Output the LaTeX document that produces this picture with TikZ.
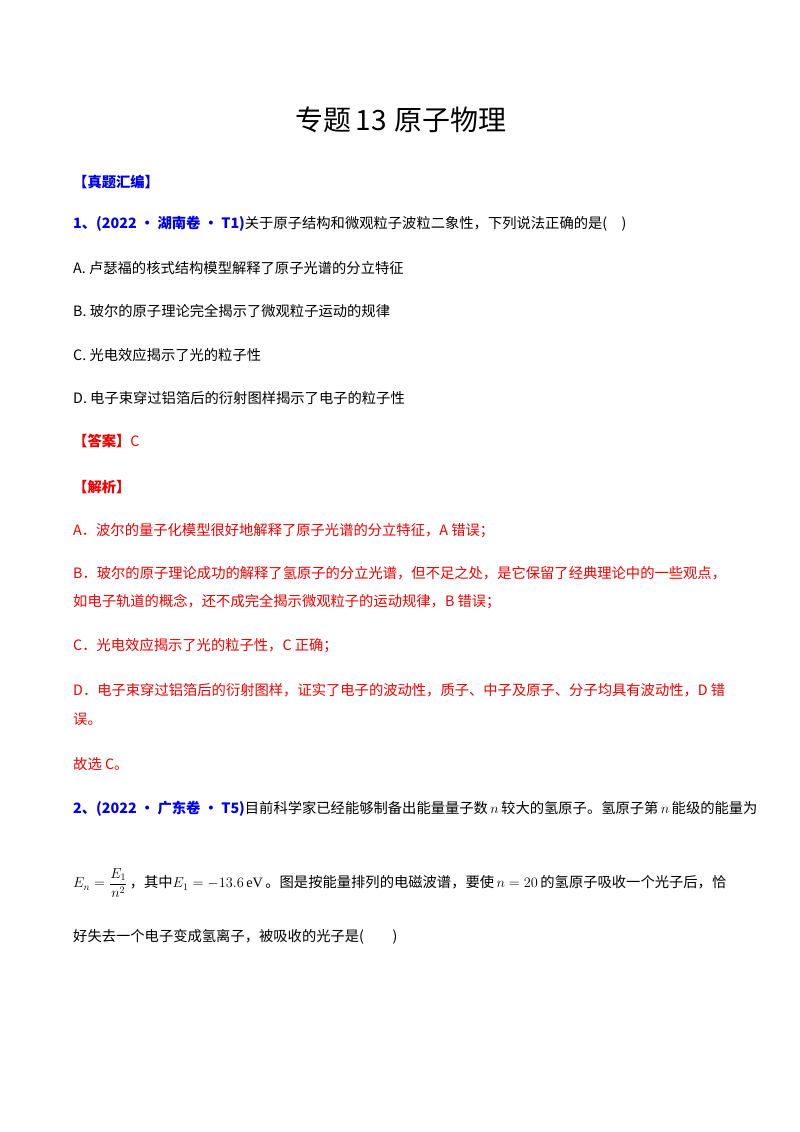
\documentclass[tikz,border=0pt]{standalone}
\usepackage{fontspec}
\usepackage{amsmath}
\setmainfont{Liberation Serif}
\newfontfamily\cjk{Noto Sans CJK SC}
\usetikzlibrary{positioning}
\definecolor{qblue}{RGB}{0,0,230}
\definecolor{ared}{RGB}{240,0,0}
\tikzset{
  line/.style={anchor=west, inner sep=0pt, font=\cjk\fontsize{14.3}{16}\selectfont},
  blueline/.style={line, text=qblue},
  redline/.style={line, text=ared}
}
\begin{document}
\begin{tikzpicture}[x=1pt, y=-1pt]
  \useasboundingbox[fill=white] (0,0) rectangle (800,1132);
  % title
  \node[inner sep=0pt, font=\cjk\fontsize{28}{30}\selectfont] (title) at (401,120) {专题\,13\;原子物理};
  \node[blueline] (part) at (73,182) {\textbf{【真题汇编】}};
  % question 1
  \node[line] (q1) at (73,224) {\textcolor{qblue}{\textbf{1、(2022 • 湖南卷 • T1)}}关于原子结构和微观粒子波粒二象性，下列说法正确的是(\quad)};
  \node[line] (optA) at (73,268) {A. 卢瑟福的核式结构模型解释了原子光谱的分立特征};
  \node[line] (optB) at (73,311) {B. 玻尔的原子理论完全揭示了微观粒子运动的规律};
  \node[line] (optC) at (73,355) {C. 光电效应揭示了光的粒子性};
  \node[line] (optD) at (73,398) {D. 电子束穿过铝箔后的衍射图样揭示了电子的粒子性};
  \node[line] (ans) at (73,441) {\textcolor{ared}{\textbf{【答案】}}\textcolor{ared}{C}};
  \node[redline] (exp) at (73,487) {\textbf{【解析】}};
  % explanation
  \node[redline] (eA) at (73,531) {A．波尔的量子化模型很好地解释了原子光谱的分立特征，A 错误；};
  \node[redline] (eB) at (73,573) {B．玻尔的原子理论成功的解释了氢原子的分立光谱，但不足之处，是它保留了经典理论中的一些观点，};
  \node[redline] (eB2) at (73,602) {如电子轨道的概念，还不成完全揭示微观粒子的运动规律，B 错误；};
  \node[redline] (eC) at (73,646) {C．光电效应揭示了光的粒子性，C 正确；};
  \node[redline] (eD) at (73,690) {D．电子束穿过铝箔后的衍射图样，证实了电子的波动性，质子、中子及原子、分子均具有波动性，D 错};
  \node[redline] (eD2) at (73,719) {误。};
  \node[redline] (pick) at (73,764) {故选 C。};
  % question 2
  \node[line] (q2) at (73,809) {\textcolor{qblue}{\textbf{2、(2022 • 广东卷 • T5)}}目前科学家已经能够制备出能量量子数\,$n$\,较大的氢原子。氢原子第\,$n$\,能级的能量为};
  \node[line] (q2b) at (73,883) {$E_n=\dfrac{E_1}{n^2}$\,，其中$E_1=-13.6\,\mathrm{eV}$\,。图是按能量排列的电磁波谱，要使\,$n=20$\,的氢原子吸收一个光子后，恰};
  \node[line] (q2c) at (73,937) {好失去一个电子变成氢离子，被吸收的光子是(\qquad)};
\end{tikzpicture}
\end{document}
